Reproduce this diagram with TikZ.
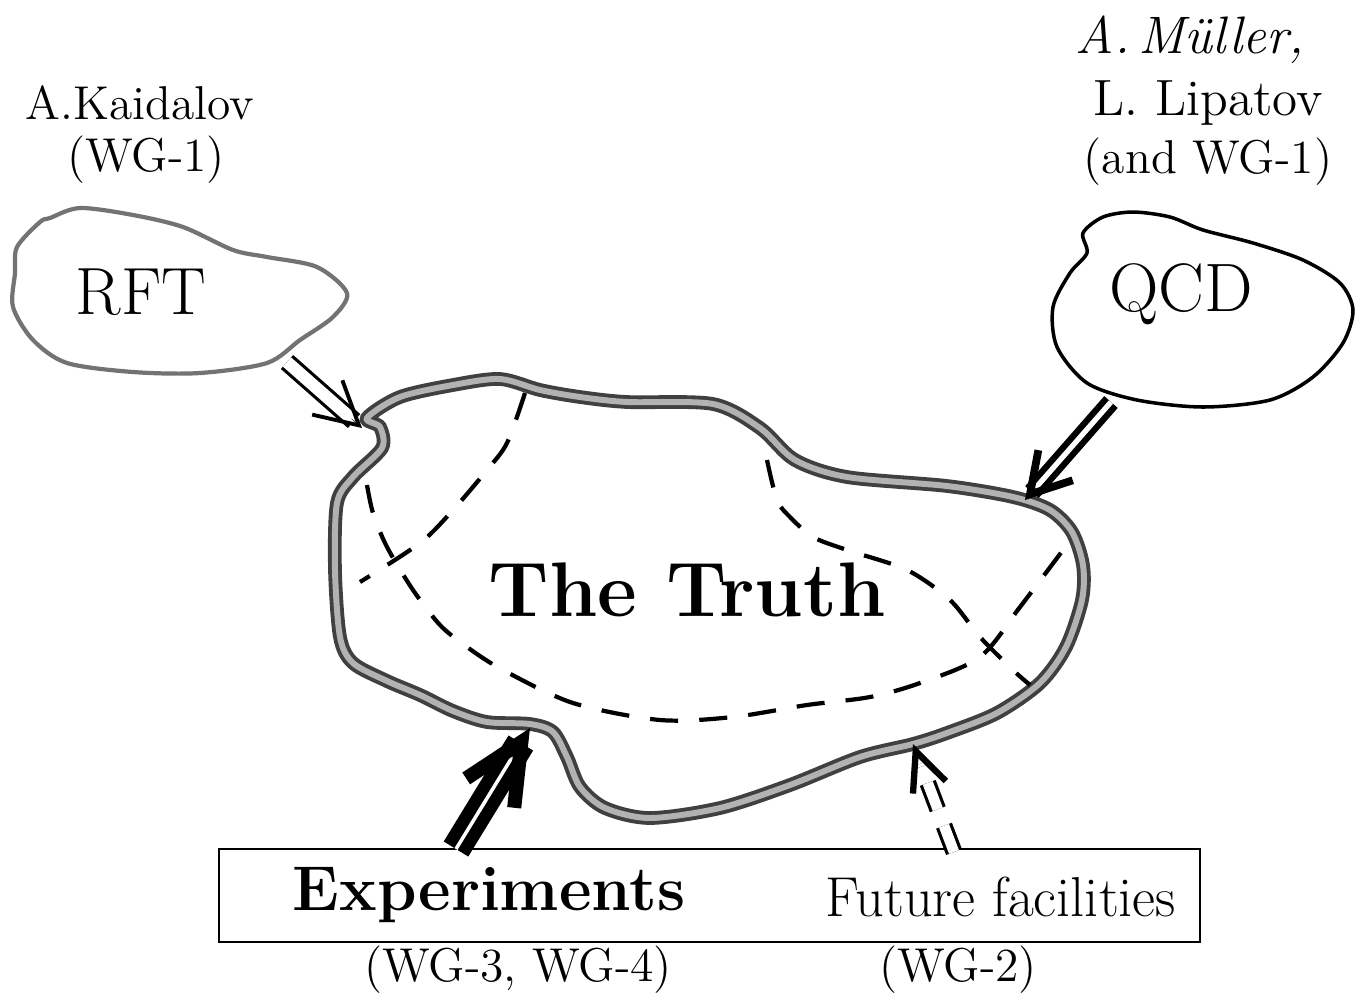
\documentclass[tikz,border=0pt]{standalone}
\usepackage{fontspec}
\usepackage{tikz}
\usetikzlibrary{arrows.meta,calc}

\tikzset{
  lbl/.style={font=\fontsize{13.5}{16}\selectfont},
  hand/.style={font=\fontsize{15}{18}\selectfont\itshape},
  big/.style={font=\fontsize{19}{23}\selectfont},
  blob/.style={draw=black!75, line width=1pt},
  truthline/.style={draw=black!75, double=gray!60, double distance=1.7pt, line width=1.1pt},
  dashline/.style={line width=1.2pt, dash pattern=on 8pt off 6pt},
  barb/.style={line width=0.1pt},
}

\begin{document}
\begin{tikzpicture}[x=0.01cm, y=-0.01cm, thick]
  \useasboundingbox (0,0) rectangle (1359,1002);

  % who is behind each approach
  \node[lbl] (kaidalov) at (140,103) {A.Kaidalov};
  \node[lbl] (wgone) at (146,160) {(WG-1)};
  \node[hand] (muller) at (1190,40) {A.\,Müller,};
  \node[lbl, font=\fontsize{14.5}{17}\selectfont] (lipatov) at (1208,103) {L. Lipatov};
  \node[lbl] (andwg) at (1208,162) {(and WG-1)};

  % the two theory blobs
  \draw[blob, black!55, line width=1.2pt] plot[smooth cycle] coordinates {(50,218) (80,208) (133,215) (183,227) (233,250) (267,257) (317,267) (347,293) (333,317) (300,340) (267,363) (200,373) (133,372) (67,363) (33,340) (13,307) (15,273) (17,247) (40,222)};
  \node[big] (rft) at (141,292) {RFT};
  \draw[blob, black] plot[smooth cycle] coordinates {(1083,233) (1103,217) (1133,212) (1170,217) (1203,230) (1253,243) (1303,260) (1340,283) (1353,310) (1343,343) (1313,377) (1270,400) (1203,407) (1137,400) (1087,383) (1057,347) (1053,307) (1070,273) (1087,253)};
  \node[big, font=\fontsize{19.5}{23}\selectfont] (qcd) at (1181,294) {QCD};

  % the truth
  \draw[truthline] plot[smooth cycle] coordinates {(367,418) (400,397) (453,385) (500,379) (540,390) (580,397) (627,402) (713,404) (760,428) (795,460) (847,477) (947,486) (1013,497) (1050,510) (1072,532) (1083,565) (1082,600) (1066,647) (1040,683) (997,713) (947,733) (913,744) (860,757) (790,785) (720,808) (650,818) (605,808) (580,787) (567,757) (553,732) (530,724) (487,722) (453,711) (420,695) (387,681) (353,663) (340,637) (335,570) (337,503) (353,477) (382,448) (380,427)};
  \draw[dashline] plot[smooth] coordinates {(525,393) (507,443) (487,470) (453,510) (420,543) (360,582)};
  \draw[dashline] plot[smooth] coordinates {(367,485) (373,513) (387,547) (413,590) (440,625) (467,647) (503,670) (573,703) (660,720) (733,717) (807,705) (870,697) (920,683) (980,657) (1020,607) (1063,550)};
  \draw[dashline] plot[smooth] coordinates {(767,460) (777,500) (790,517) (813,537) (847,550) (907,570) (950,600) (980,637) (1013,670) (1030,685)};
  \node[font=\fontsize{22}{26}\selectfont\bfseries] (truth) at (687,590) {The Truth};

  % experiments box
  \node[draw, line width=0.6pt, minimum width=9.81cm, minimum height=0.93cm] (facbox) at (709.5,895.5) {};
  \node[font=\fontsize{18}{22}\selectfont\bfseries] (exper) at (489,895) {Experiments};
  \node[font=\fontsize{16}{19}\selectfont] (future) at (1001,897) {Future facilities};
  \node[lbl] (wgthree) at (518,970) {(WG-3, WG-4)};
  \node[lbl] (wgtwo) at (958,970) {(WG-2)};

  % ends of the arrows
  \coordinate (rftout) at (287,362);
  \coordinate (truthnw) at (362,428);
  \coordinate (qcdout) at (1111,402);
  \coordinate (truthne) at (1025,500);
  \coordinate (expout) at (456,849);
  \coordinate (truthsw) at (530,728);
  \coordinate (futout) at (954,852);
  \coordinate (truthse) at (913,744);

  % arrows: shafts
  \draw[double distance=3.5pt, line width=0.9pt, shorten >=3pt] (rftout) -- (truthnw);
  \draw[double distance=1.5pt, line width=1.8pt, shorten >=3pt] (qcdout) -- (truthne);
  \draw[double distance=1pt, line width=3.6pt, shorten >=5pt] (expout) -- (truthsw);
  \draw[double distance=3pt, line width=0.9pt, dash pattern=on 8pt off 5pt, shorten >=6pt] (futout) -- (truthse);
  % arrows: heads
  \draw[barb, -{Straight Barb[length=12pt, width=13pt, line width=1.1pt]}] ($(truthnw)!4pt!(rftout)$) -- (truthnw);
  \draw[barb, -{Straight Barb[length=11pt, width=13pt, line width=2.2pt]}] ($(truthne)!4pt!(qcdout)$) -- (truthne);
  \draw[barb, -{Straight Barb[length=17pt, width=16pt, line width=4pt]}] ($(truthsw)!4pt!(expout)$) -- (truthsw);
  \draw[barb, -{Straight Barb[length=11pt, width=10pt, line width=1.8pt]}] ($(truthse)!4pt!(futout)$) -- (truthse);
\end{tikzpicture}
\end{document}
